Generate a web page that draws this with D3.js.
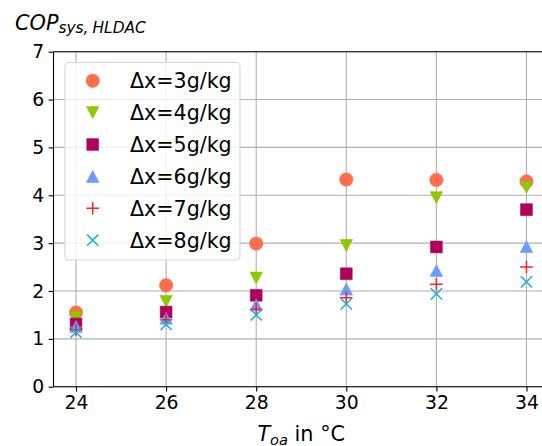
<!DOCTYPE html>
<html>
<head>
<meta charset="utf-8">
<script src="https://cdn.jsdelivr.net/npm/d3@7"></script>
<style>
  html, body { margin: 0; padding: 0; background: #fff; }
  svg { display: block; font-family: "DejaVu Sans", sans-serif; }
</style>
</head>
<body>
<svg id="chart" width="542" height="446"></svg>
<script>
// Outdoor air temperature (°C) on the x axis
const temperatures = [24, 26, 28, 30, 32, 34];

// System COP for each humidity difference Δx
const cop3 = [1.55, 2.12, 2.99, 4.33, 4.32, 4.29];
const cop4 = [1.44, 1.78, 2.27, 2.95, 3.95, 4.16];
const cop5 = [1.31, 1.56, 1.91, 2.36, 2.92, 3.70];
const cop6 = [1.26, 1.43, 1.71, 2.04, 2.43, 2.93];
const cop7 = [1.19, 1.40, 1.62, 1.86, 2.14, 2.50];
const cop8 = [1.14, 1.30, 1.50, 1.73, 1.94, 2.19];

const seriesLabels = ["Δx=3g/kg", "Δx=4g/kg", "Δx=5g/kg", "Δx=6g/kg", "Δx=7g/kg", "Δx=8g/kg"];
const xTicks = [24, 26, 28, 30, 32, 34];
const yTicks = [0, 1, 2, 3, 4, 5, 6, 7];

const seriesValues = [cop3, cop4, cop5, cop6, cop7, cop8];
const markerKinds = ["circle", "triDown", "square", "triUp", "plus", "cross"];
const colors = ["#ff6e4c", "#8fc800", "#b0005c", "#6b9cff", "#ff2020", "#1aaed2"];

const svg = d3.select("#chart");

const x = d3.scaleLinear().domain([23.5, 34.5]).range([53.5, 549]);
const y = d3.scaleLinear().domain([0, 7]).range([386.7, 51.7]);

// Grid lines
const grid = svg.append("g");
grid.selectAll(".gx").data(xTicks).join("line")
  .attr("x1", d => x(d)).attr("x2", d => x(d))
  .attr("y1", y(0)).attr("y2", y(7))
  .attr("stroke", "#b0b0b0").attr("stroke-width", 1.1);
grid.selectAll(".gy").data(yTicks).join("line")
  .attr("x1", x(23.5)).attr("x2", x(34.5))
  .attr("y1", d => y(d)).attr("y2", d => y(d))
  .attr("stroke", "#b0b0b0").attr("stroke-width", 1.1);

// Marker shapes, centred at the origin
function markerPath(kind) {
  switch (kind) {
    case "circle": return d3.symbol(d3.symbolCircle, Math.PI * 6.7 * 6.7)();
    case "square": return "M-5.9,-5.9H5.9V5.9H-5.9Z";
    case "triDown": return "M0,6L-6.3,-6H6.3Z";
    case "triUp": return "M0,-6L-6.3,6H6.3Z";
    case "plus": return "M-6.3,0H6.3M0,-6.3V6.3";
    case "cross": return "M-5.6,-5.6L5.6,5.6M-5.6,5.6L5.6,-5.6";
  }
}
function styleMarker(sel, kind, color) {
  if (kind === "plus" || kind === "cross") {
    sel.attr("fill", "none").attr("stroke", color).attr("stroke-width", 1.5);
  } else {
    sel.attr("fill", color).attr("stroke", color).attr("stroke-width", 0.6);
  }
}

// Data points
seriesValues.forEach((vals, i) => {
  const g = svg.append("g");
  g.selectAll("path").data(vals).join("path")
    .attr("d", markerPath(markerKinds[i]))
    .attr("transform", (d, j) => `translate(${x(temperatures[j])},${y(d)})`)
    .call(styleMarker, markerKinds[i], colors[i]);
});

// Spines
svg.append("line").attr("x1", x(23.5)).attr("x2", x(23.5)).attr("y1", y(0)).attr("y2", y(7))
  .attr("stroke", "#000").attr("stroke-width", 1.1);
svg.append("line").attr("x1", x(23.5)).attr("x2", x(34.5)).attr("y1", y(0)).attr("y2", y(0))
  .attr("stroke", "#000").attr("stroke-width", 1.1);
svg.append("line").attr("x1", x(23.5)).attr("x2", x(34.5)).attr("y1", y(7)).attr("y2", y(7))
  .attr("stroke", "#000").attr("stroke-width", 1.1);
svg.append("line").attr("x1", x(34.5)).attr("x2", x(34.5)).attr("y1", y(0)).attr("y2", y(7))
  .attr("stroke", "#000").attr("stroke-width", 1.1);

// Axes
const xAxis = d3.axisBottom(x).tickValues(xTicks).tickSize(4.9).tickPadding(4.5).tickFormat(d3.format("d"));
const yAxis = d3.axisLeft(y).tickValues(yTicks).tickSize(4.9).tickPadding(4.5).tickFormat(d3.format("d"));
const gx = svg.append("g").attr("transform", `translate(0,${y(0)})`).call(xAxis);
const gy = svg.append("g").attr("transform", `translate(${x(23.5)},0)`).call(yAxis);
[gx, gy].forEach(g => {
  g.select(".domain").remove();
  g.selectAll(".tick line").attr("stroke", "#000").attr("stroke-width", 1.1);
  g.selectAll(".tick text").attr("fill", "#000")
    .style("font-family", "'DejaVu Sans', sans-serif").style("font-size", "18.8px");
});

// Y axis title
const yt = svg.append("text").attr("x", 15).attr("y", 29.5)
  .style("font-family", "'DejaVu Sans', sans-serif").style("font-style", "italic")
  .style("font-size", "20.8px").attr("fill", "#000");
yt.append("tspan").text("COP");
yt.append("tspan").attr("dy", 3.5).style("font-size", "15.4px").text("sys,");
yt.append("tspan").attr("dx", 4).style("font-size", "15.4px").text("HLDAC");

// X axis title
const xt = svg.append("text").attr("x", x(29)).attr("y", 441).attr("text-anchor", "middle")
  .style("font-family", "'DejaVu Sans', sans-serif").style("font-size", "20.8px").attr("fill", "#000");
xt.append("tspan").style("font-style", "italic").text("T");
xt.append("tspan").attr("dy", 3.5).style("font-style", "italic").style("font-size", "14.6px").text("oa");
xt.append("tspan").attr("dy", -3.5).text(" in °C");

// Legend
const legend = svg.append("g");
legend.append("rect").attr("x", 65).attr("y", 62.5).attr("width", 175).attr("height", 197.5)
  .attr("rx", 4).attr("fill", "#fff").attr("fill-opacity", 0.8)
  .attr("stroke", "#d6d6d6").attr("stroke-width", 1.1);
const rows = legend.selectAll(".row").data(seriesLabels).join("g")
  .attr("transform", (d, i) => `translate(0,${80.7 + i * 31.9})`);
rows.append("path")
  .attr("d", (d, i) => markerPath(markerKinds[i]))
  .attr("transform", "translate(92.7,0)")
  .each(function (d, i) { styleMarker(d3.select(this), markerKinds[i], colors[i]); });
rows.append("text").attr("x", 130).attr("y", 7.3)
  .style("font-family", "'DejaVu Sans', sans-serif").style("font-size", "20.6px")
  .attr("fill", "#000").text(d => d);
</script>
</body>
</html>
